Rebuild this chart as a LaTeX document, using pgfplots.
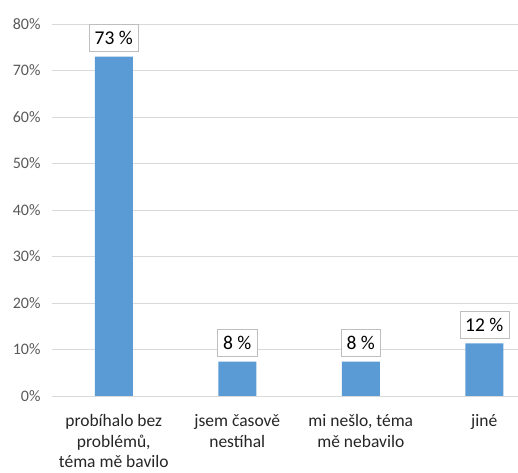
\documentclass[border=0pt]{standalone}
\usepackage{fontspec}
\setmainfont{Carlito}
\usepackage{pgfplots}
\pgfplotsset{compat=1.18}
\definecolor{barblue}{HTML}{5B9BD5}
\definecolor{gridgray}{HTML}{D9D9D9}
\definecolor{ticktext}{HTML}{595959}
\definecolor{cattext}{HTML}{262626}
\begin{document}
\begin{tikzpicture}
\begin{axis}[
 name=ax,
 scale only axis,
 width=466pt, height=372pt,
 xmin=-0.5, xmax=3.273, ymin=0, ymax=80,
 axis line style={draw=none},
 major tick length=0pt,
 ymajorgrids,
 grid style={draw=gridgray, line width=0.8pt},
 ytick={0,10,...,80},
 yticklabel={\pgfmathprintnumber{\tick}\%},
 /pgf/number format/assume math mode=true,
 yticklabel style={font=\fontsize{16}{19}\selectfont, text=ticktext, xshift=-8pt},
 xtick={0,1,2,3},
 xticklabels={{probíhalo bez\\problémů,\\téma mě bavilo},{jsem časově\\nestíhal},{mi nešlo, téma\\mě nebavilo},{jiné}},
 xticklabel style={align=center, font=\fontsize{17.5}{20.5}\selectfont, text=cattext, yshift=-15pt},
 ybar, bar width=38pt,
 nodes near coords,
 point meta=explicit symbolic,
 every node near coord/.append style={draw=gridgray!70!gray, fill=white, text=black, font=\fontsize{19.5}{21}\selectfont, inner xsep=5.5pt, inner ysep=7pt, anchor=south, yshift=5pt},
 clip=false
]
\addplot[fill=barblue, draw=none] coordinates {(0,73) [73 \%] (1,7.4) [8 \%] (2,7.4) [8 \%] (3,11.3) [12 \%]};
\end{axis}
\pgfresetboundingbox
\path[use as bounding box] ([xshift=-52pt,yshift=-77pt]ax.south west) rectangle ([yshift=24pt]ax.north east);
\end{tikzpicture}
\end{document}
